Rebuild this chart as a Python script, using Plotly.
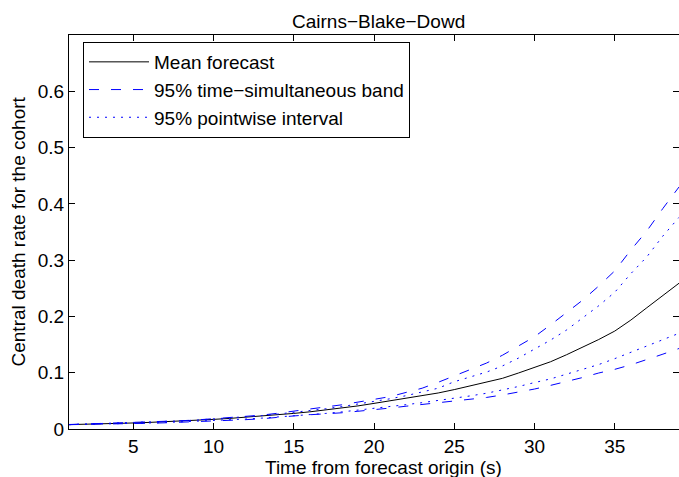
import plotly.graph_objects as go

years = list(range(1, 40))

mean_forecast = [0.0078, 0.0083, 0.0090, 0.0098, 0.0107, 0.0117, 0.0128, 0.0140, 0.0155, 0.0171,
                 0.0188, 0.0207, 0.0227, 0.0251, 0.0277, 0.0305, 0.0336, 0.0370, 0.0410, 0.0455,
                 0.0500, 0.0545, 0.0592, 0.0640, 0.0700, 0.0765, 0.0830, 0.0900, 0.0995, 0.1100,
                 0.1195, 0.1320, 0.1455, 0.1590, 0.1740, 0.1935, 0.2155, 0.2370, 0.2590]

band_upper = [0.0080, 0.0088, 0.0096, 0.0104, 0.0113, 0.0123, 0.0134, 0.0147, 0.0162, 0.0180,
              0.0198, 0.0220, 0.0246, 0.0280, 0.0315, 0.0348, 0.0382, 0.0430, 0.0478, 0.0520,
              0.0575, 0.0650, 0.0725, 0.0830, 0.0940, 0.1060, 0.1170, 0.1310, 0.1470, 0.1640,
              0.1850, 0.2070, 0.2290, 0.2540, 0.2810, 0.3180, 0.3520, 0.3920, 0.4300]

band_lower = [0.0077, 0.0080, 0.0084, 0.0089, 0.0095, 0.0102, 0.0110, 0.0119, 0.0129, 0.0140,
              0.0152, 0.0166, 0.0181, 0.0200, 0.0232, 0.0253, 0.0265, 0.0288, 0.0315, 0.0338,
              0.0372, 0.0405, 0.0435, 0.0466, 0.0495, 0.0522, 0.0560, 0.0605, 0.0655, 0.0710,
              0.0775, 0.0840, 0.0915, 0.0995, 0.1060, 0.1140, 0.1230, 0.1330, 0.1430]

pw_upper = [0.0079, 0.0087, 0.0095, 0.0103, 0.0112, 0.0122, 0.0133, 0.0145, 0.0160, 0.0177,
            0.0195, 0.0215, 0.0238, 0.0265, 0.0295, 0.0326, 0.0360, 0.0398, 0.0440, 0.0487,
            0.0537, 0.0592, 0.0655, 0.0725, 0.0840, 0.0920, 0.1010, 0.1120, 0.1260, 0.1420,
            0.1580, 0.1760, 0.1970, 0.2190, 0.2430, 0.2760, 0.3060, 0.3430, 0.3760]

pw_lower = [0.0077, 0.0081, 0.0086, 0.0092, 0.0099, 0.0107, 0.0116, 0.0126, 0.0137, 0.0149,
            0.0162, 0.0177, 0.0193, 0.0211, 0.0231, 0.0253, 0.0277, 0.0304, 0.0333, 0.0365,
            0.0398, 0.0432, 0.0468, 0.0505, 0.0545, 0.0588, 0.0635, 0.0690, 0.0755, 0.0825,
            0.0890, 0.0975, 0.1065, 0.1145, 0.1250, 0.1360, 0.1470, 0.1590, 0.1700]

x_ticks = [5, 10, 15, 20, 25, 30, 35]
y_ticks = [0, 0.1, 0.2, 0.3, 0.4, 0.5, 0.6]
y_tick_text = ["0", "0.1", "0.2", "0.3", "0.4", "0.5", "0.6"]

FONT = "Liberation Sans, Arial, Helvetica, sans-serif"
BLUE = "rgb(0,0,255)"
DASH = "10px,12px"
DOT = "2px,6px"

fig = go.Figure()
fig.add_trace(go.Scatter(x=years, y=mean_forecast, mode="lines", name="Mean forecast",
                         line=dict(color="black", width=1)))
fig.add_trace(go.Scatter(x=years, y=band_upper, mode="lines", name="95% time\u2212simultaneous band",
                         line=dict(color=BLUE, width=1, dash=DASH)))
fig.add_trace(go.Scatter(x=years, y=pw_upper, mode="lines", name="95% pointwise interval",
                         line=dict(color=BLUE, width=1, dash=DOT)))
fig.add_trace(go.Scatter(x=years, y=band_lower, mode="lines", showlegend=False,
                         line=dict(color=BLUE, width=1, dash=DASH)))
fig.add_trace(go.Scatter(x=years, y=pw_lower, mode="lines", showlegend=False,
                         line=dict(color=BLUE, width=1, dash=DOT)))

L, R, T, B = 69, 0, 35, 48
W, H = 679, 477
pw = W - L - R
ph = H - T - B

fig.update_layout(
    width=W, height=H,
    margin=dict(l=L, r=R, t=T, b=B, pad=0),
    paper_bgcolor="white", plot_bgcolor="white",
    font=dict(family=FONT, size=19, color="black"),
    showlegend=True,
    legend=dict(x=(83 - L) / pw, y=1 - (42 - T) / ph, xanchor="left", yanchor="top",
                bordercolor="black", borderwidth=1, bgcolor="white",
                font=dict(size=19), itemwidth=60, tracegroupgap=0),
    xaxis=dict(range=[1, 39], tickvals=x_ticks, ticks="inside", ticklen=6, tickwidth=1,
               tickcolor="black", showline=True, linecolor="black", linewidth=1,
               mirror="ticks", showgrid=False, zeroline=False,
               tickfont=dict(size=19)),
    yaxis=dict(range=[0, 0.7], tickvals=y_ticks, ticktext=y_tick_text, ticks="inside",
               ticklen=6, tickwidth=1, tickcolor="black", showline=True, linecolor="black",
               linewidth=1, mirror="ticks", showgrid=False, zeroline=False,
               tickfont=dict(size=19)),
    annotations=[
        dict(text="Cairns\u2212Blake\u2212Dowd", xref="paper", yref="paper",
             x=(378 - L) / pw, y=1 + (T - 21) / ph, xanchor="center", yanchor="middle",
             showarrow=False, font=dict(size=19)),
        dict(text="Time from forecast origin (s)", xref="paper", yref="paper",
             x=(383.5 - L) / pw, y=-(467 - (T + ph)) / ph, xanchor="center", yanchor="middle",
             showarrow=False, font=dict(size=19)),
        dict(text="Central death rate for the cohort", xref="paper", yref="paper",
             x=-(L - 17.5) / pw, y=0.5, xanchor="center", yanchor="middle", textangle=-90,
             showarrow=False, font=dict(size=19)),
    ],
)

fig.write_html("out.html", config={"displayModeBar": False},
               post_script="document.body.style.margin='0';document.body.style.overflow='hidden';")
